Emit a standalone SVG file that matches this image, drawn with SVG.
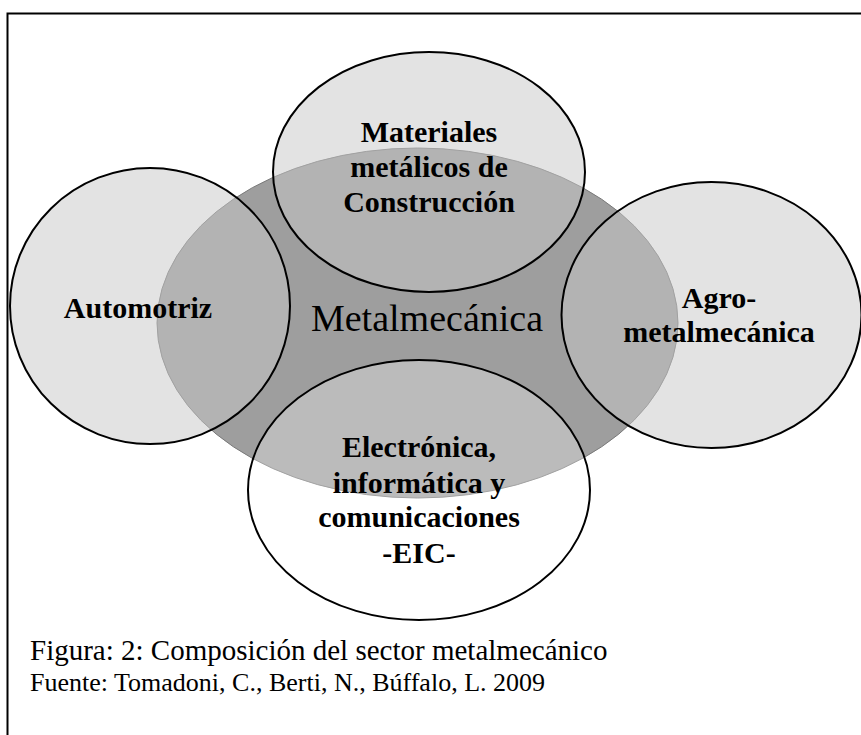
<svg xmlns="http://www.w3.org/2000/svg" width="861" height="735" viewBox="0 0 861 735">
<style>
.lbl{font-family:"Liberation Serif","Times New Roman",serif;font-weight:bold;font-size:30px;fill:#000;text-anchor:middle}
.core{font-family:"Liberation Serif","Times New Roman",serif;font-size:38px;fill:#000;text-anchor:middle}
.cap{font-family:"Liberation Serif","Times New Roman",serif;fill:#000}
.sat{fill:#c8c8c8;fill-opacity:0.5;stroke:#000;stroke-width:2}
.sat-w{fill:#fff;fill-opacity:0.3;stroke:#000;stroke-width:2}
</style>
<rect width="861" height="735" fill="#fff"/>
<path d="M7.5,735 V13.5 H861" fill="none" stroke="#000" stroke-width="2"/>
<g id="metalmecanica">
<ellipse cx="417.5" cy="323" rx="260.5" ry="175" fill="#9e9e9e" stroke="#7a7a7a" stroke-width="1"/>
<text class="core" x="427" y="331">Metalmecánica</text>
</g>
<g id="automotriz">
<ellipse class="sat" cx="150" cy="306" rx="140" ry="138"/>
<text class="lbl" x="138" y="318">Automotriz</text>
</g>
<g id="agro">
<ellipse class="sat" cx="711.5" cy="315" rx="150" ry="133"/>
<text class="lbl" x="719" y="308">Agro-</text>
<text class="lbl" x="719" y="342">metalmecánica</text>
</g>
<g id="materiales">
<ellipse class="sat" cx="429" cy="172" rx="156" ry="120"/>
<text class="lbl" x="429" y="142">Materiales</text>
<text class="lbl" x="429" y="177">metálicos de</text>
<text class="lbl" x="429" y="212">Construcción</text>
</g>
<g id="eic">
<ellipse class="sat-w" cx="419" cy="490" rx="171" ry="130"/>
<text class="lbl" x="419" y="457">Electrónica,</text>
<text class="lbl" x="419" y="493">informática y</text>
<text class="lbl" x="419" y="527">comunicaciones</text>
<text class="lbl" x="419" y="563">-EIC-</text>
</g>
<g id="connectors"/>
<g id="caption">
<text class="cap" x="30" y="660" font-size="29">Figura: 2: Composición del sector metalmecánico</text>
<text class="cap" x="30" y="691" font-size="26">Fuente: Tomadoni, C., Berti, N., Búffalo, L. 2009</text>
</g>
</svg>
